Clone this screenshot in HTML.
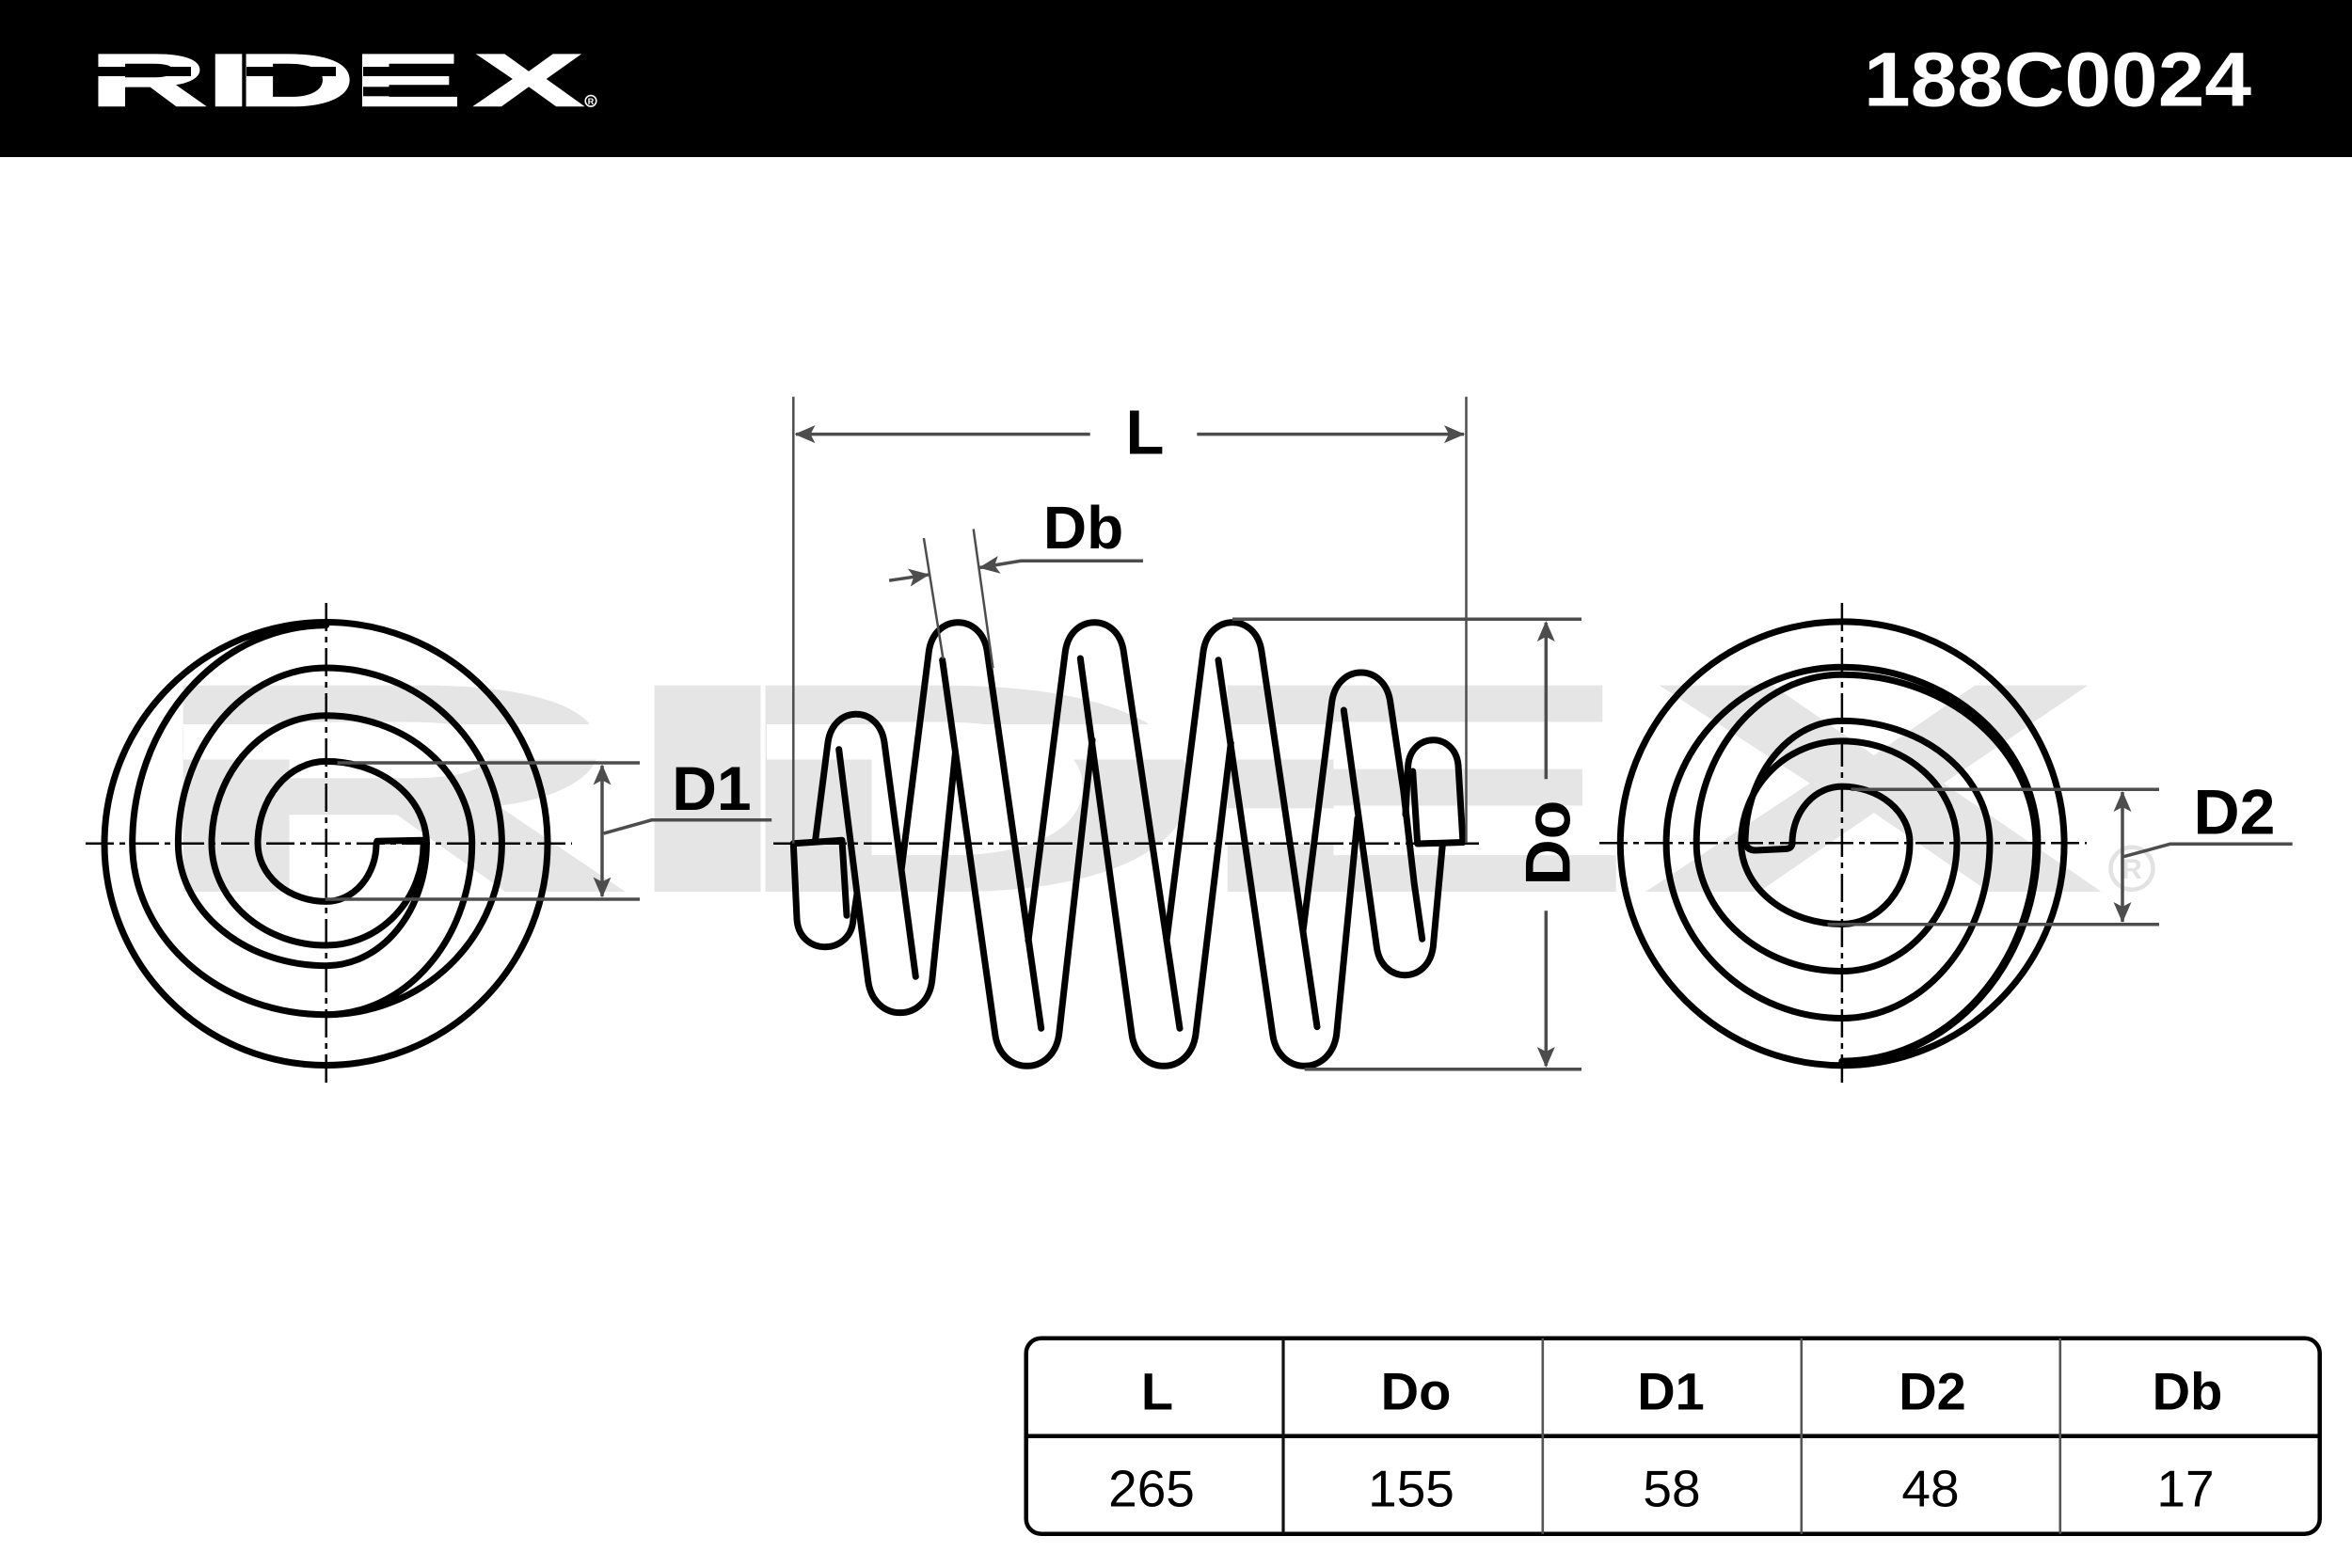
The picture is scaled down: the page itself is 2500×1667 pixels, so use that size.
<!DOCTYPE html>
<html>
<head>
<meta charset="utf-8">
<style>
html,body{margin:0;padding:0;background:#fff;}
svg{display:block;}
</style>
</head>
<body>
<svg width="2500" height="1667" viewBox="0 0 2500 1667" xmlns="http://www.w3.org/2000/svg" font-family="'Liberation Sans', Arial, sans-serif">
  <!-- Header bar -->
  <rect x="0" y="0" width="2500" height="167" fill="#000"/>
  <text x="43 99.5 114.4 170.5 229.1" y="112.5" transform="scale(2.2,1)" font-size="79" font-weight="bold" fill="#fff" stroke="#fff" stroke-width="1.6" stroke-linejoin="miter">RIDEX</text>
  <rect x="104" y="71" width="99" height="10" fill="#000"/>
  <rect x="262" y="71" width="95" height="10" fill="#000"/>
  <rect x="386" y="71" width="115" height="10" fill="#000"/>
  <rect x="386" y="92.3" width="115" height="10" fill="#000"/>
  <circle cx="628" cy="107.3" r="5.8" fill="none" stroke="#fff" stroke-width="1.6"/>
  <text x="628" y="110.8" font-size="9" font-weight="bold" fill="#fff" text-anchor="middle">R</text>
  <text x="1981" y="112.3" font-size="82" font-weight="bold" fill="#fff" textLength="412" lengthAdjust="spacingAndGlyphs">188C0024</text>

  <!-- Watermark -->
  <text x="65.7 283.5 334.8 548.3 761.5" y="946" transform="scale(2.3,1)" font-size="313" font-weight="bold" fill="#e5e5e5" stroke="#e5e5e5" stroke-width="4" stroke-linejoin="miter">RIDEX</text>
  <rect x="195" y="770" width="465" height="37.5" fill="#fff"/>
  <rect x="815" y="770" width="460" height="37.5" fill="#fff"/>
  <rect x="1300" y="770" width="460" height="37.5" fill="#fff"/>
  <rect x="1300" y="859.3" width="460" height="37.5" fill="#fff"/>
  <circle cx="2266" cy="923.3" r="22.5" fill="none" stroke="#e2e2e2" stroke-width="4.5"/>
  <text x="2266" y="934" font-size="30" font-weight="bold" fill="#e2e2e2" text-anchor="middle">R</text>

  <!-- Center lines -->
  <g stroke="#000" stroke-width="2.5" stroke-dasharray="30 6 6 6" fill="none">
    <line x1="91" y1="896.7" x2="608" y2="896.7"/>
    <line x1="346.7" y1="641" x2="346.7" y2="1152"/>
    <line x1="822" y1="896.7" x2="1578" y2="896.7"/>
    <line x1="1700" y1="896.3" x2="2218" y2="896.3"/>
    <line x1="1957.9" y1="641" x2="1957.9" y2="1152"/>
  </g>

  <!-- Left spiral -->
  <g stroke="#000" stroke-width="7" fill="none" stroke-linecap="round" stroke-linejoin="round">
    <circle cx="346.5" cy="897" r="235.5"/>
    <path d="M 400,896.7 A 53.3 61.7 0 0 1 346.7,958.4 A 72.7 61.7 0 0 1 274,896.7 A 72.7 87.3 0 0 1 346.7,809.4 A 106.7 87.3 0 0 1 453.4,896.7 A 106.7 130 0 0 1 346.7,1026.7 A 157.3 130 0 0 1 189.4,896.7 A 157.3 186.7 0 0 1 346.7,710 A 186.7 186.7 0 0 1 533.4,896.7 A 186.7 182 0 0 1 346.7,1078.7 A 206 182 0 0 1 140.7,896.7 A 206 232 0 0 1 346.7,664.7"/>
    <path d="M 450.1,893.3 L 450.1,896.7 A 103.4 108.3 0 0 1 346.7,1005 A 121.7 108.3 0 0 1 225,896.7 A 121.7 136 0 0 1 346.7,760.7 A 155 136 0 0 1 501.7,896.7 A 155 182 0 0 1 346.7,1078.7"/>
    <path d="M 400,898 L 400.8,894.2 L 450.1,893.3"/>
  </g>

  <!-- Right spiral -->
  <g stroke="#000" stroke-width="7" fill="none" stroke-linecap="round" stroke-linejoin="round">
    <circle cx="1958.2" cy="896.8" r="235.9"/>
    <path d="M 1905,896.1 A 52.9 60 0 0 1 1957.9,836.1 A 72.1 60 0 0 1 2030,896.1 A 72.1 86.4 0 0 1 1957.9,982.5 A 107.2 86.4 0 0 1 1850.7,896.1 A 107.2 108.2 0 0 1 1957.9,787.9 A 122.1 108.2 0 0 1 2080,896.1 A 122.1 136.4 0 0 1 1957.9,1032.5 A 154.7 136.4 0 0 1 1803.2,896.1 A 154.7 178.9 0 0 1 1957.9,717.2 A 206 178.9 0 0 1 2163.9,896.1 A 206 232 0 0 1 1957.9,1128.1"/>
    <path d="M 1855,896.1 A 102.9 129.7 0 0 1 1957.9,766.4 A 157.1 129.7 0 0 1 2115,896.1 A 157.1 186.4 0 0 1 1957.9,1082.5 A 186.8 186.4 0 0 1 1771.1,896.1 A 186.8 186.8 0 0 1 1957.9,709.3 A 208 186.8 0 0 1 2165.9,896.1 A 208 233 0 0 1 1957.9,1129.1"/>
    <path d="M 1855,896.1 Q 1857,904 1866,904 L 1898,902.5 Q 1905,902 1905,896.1"/>
  </g>

  <!-- Spring side view -->
  <g stroke="#000" stroke-width="7" fill="none" stroke-linecap="round" stroke-linejoin="round">
    <path d="M 843.3,896.7 L 895,893.3 L 900,973.3"/>
    <path d="M 843.3,896.7 L 847,976.7 C 849,1016.7 905,1016.7 907,976.7 L 911,950"/>
    <path d="M 866.7,893 L 880,789.3 C 885.6,749.3 934.4,749.3 940,789.3 L 973.3,1038.3"/>
    <path d="M 958.3,923.3 L 987.3,692.7 C 993.1,651.4 1043.5,651.4 1049.3,692.7 L 1106.7,1093.3"/>
    <path d="M 1093,1000 L 1132.3,692.7 C 1138.1,651.4 1188.5,651.4 1194.3,692.7 L 1254,1093.3"/>
    <path d="M 1240,1000 L 1279,692.7 C 1284.8,651.4 1335.2,651.4 1341,692.7 L 1400,1091.7"/>
    <path d="M 1385,990 L 1415.7,746 C 1421.5,704.7 1471.9,704.7 1477.7,746 L 1491.7,840 L 1503.3,940 L 1511.7,998.3"/>
    <path d="M 891.7,796.7 L 922.7,1042.7 C 928.6,1088 984.8,1088 990.7,1042.7 L 1015.5,800"/>
    <path d="M 1001.7,701.7 L 1057.7,1099.3 C 1063.6,1144.6 1119.8,1144.6 1125.7,1099.3 L 1161,786.7"/>
    <path d="M 1148.3,700 L 1203,1099.3 C 1208.9,1144.6 1265.1,1144.6 1271,1099.3 L 1308.3,790"/>
    <path d="M 1295,701.7 L 1352.7,1099.3 C 1358.6,1144.6 1414.8,1144.6 1420.7,1099.3 L 1443,870"/>
    <path d="M 1428.3,755 L 1463.3,1006.7 C 1468.5,1046.7 1518.1,1046.7 1523.3,1006.7 L 1533.3,898"/>
    <path d="M 1494,866 L 1496.7,813.4 C 1500.2,777.9 1546.5,777.9 1550,813.4 L 1555,895.5"/>
    <path d="M 1555,895.5 L 1506.7,897 L 1501.7,820"/>
  </g>

  <!-- Dimension lines -->
  <g stroke="#4d4d4d" fill="none" stroke-linecap="butt">
    <line x1="843.3" y1="421.8" x2="843.3" y2="896.7" stroke-width="2.5"/>
    <line x1="1558.5" y1="421.8" x2="1558.5" y2="896" stroke-width="2.5"/>
    <line x1="846" y1="461.6" x2="1158.7" y2="461.6" stroke-width="3.5"/>
    <line x1="1272.3" y1="461.6" x2="1556" y2="461.6" stroke-width="3.5"/>
    <line x1="981.9" y1="572.1" x2="1002.5" y2="700.5" stroke-width="2.5"/>
    <line x1="1034.7" y1="562.4" x2="1055.4" y2="710.2" stroke-width="2.5"/>
    <polyline points="945.1,617.2 988.1,610.8" stroke-width="3.5"/>
    <polyline points="1040.4,603.6 1085.2,596.3 1215,596.3" stroke-width="3.5"/>
    <line x1="1310" y1="658.3" x2="1681" y2="658.3" stroke-width="3.5"/>
    <line x1="1386.7" y1="1136.7" x2="1681" y2="1136.7" stroke-width="3.5"/>
    <line x1="1643.3" y1="662" x2="1643.3" y2="828.3" stroke-width="3.5"/>
    <line x1="1643.3" y1="968.3" x2="1643.3" y2="1133" stroke-width="3.5"/>
    <line x1="358.5" y1="811" x2="680" y2="811" stroke-width="3.5"/>
    <line x1="345.7" y1="956" x2="680" y2="956" stroke-width="3.5"/>
    <line x1="640" y1="814" x2="640" y2="953" stroke-width="3.5"/>
    <polyline points="641.6,886.1 692.7,871.8 820.2,871.8" stroke-width="3.5"/>
    <line x1="1967.5" y1="839.3" x2="2295" y2="839.3" stroke-width="3.5"/>
    <line x1="1942.5" y1="982.7" x2="2295" y2="982.7" stroke-width="3.5"/>
    <line x1="2256" y1="842" x2="2256" y2="980" stroke-width="3.5"/>
    <polyline points="2257.3,910.7 2306.7,897.3 2436.7,897.3" stroke-width="3.5"/>
  </g>

  <!-- Arrowheads -->
  <g fill="#4d4d4d" stroke="none">
    <polygon points="844.5,461.6 866.5,452.1 861.5,461.6 866.5,471.1"/>
    <polygon points="1557,461.6 1535,452.1 1540,461.6 1535,471.1"/>
    <polygon points="988.1,610.8 967.74,623.45 971.29,613.31 964.94,604.65"/>
    <polygon points="1040.4,603.6 1060.76,590.96 1057.21,601.09 1063.56,609.76"/>
    <polygon points="1643.3,660 1633.8,682 1643.3,677 1652.8,682"/>
    <polygon points="1643.3,1135 1633.8,1113 1643.3,1118 1652.8,1113"/>
    <polygon points="640,812.5 630.5,834.5 640,829.5 649.5,834.5"/>
    <polygon points="640,954.5 630.5,932.5 640,937.5 649.5,932.5"/>
    <polygon points="2256,841 2246.5,863 2256,858 2265.5,863"/>
    <polygon points="2256,981 2246.5,959 2256,964 2265.5,959"/>
  </g>

  <!-- Dimension labels -->
  <g font-weight="bold" fill="#000" text-anchor="middle">
    <text x="1217" y="482.4" font-size="67">L</text>
    <text x="1151.5" y="583" font-size="64">Db</text>
    <text x="756.4" y="861" font-size="66">D1</text>
    <text x="2375" y="886.7" font-size="68">D2</text>
    <text transform="translate(1668.5,896) rotate(-90)" font-size="68">Do</text>
  </g>

  <!-- Table -->
  <rect x="1090.7" y="1422.7" width="1375" height="208" rx="16" ry="16" fill="none" stroke="#000" stroke-width="4.5"/>
  <line x1="1090.7" y1="1526.7" x2="2465.7" y2="1526.7" stroke="#000" stroke-width="4.5"/>
  <line x1="1364" y1="1422.7" x2="1364" y2="1630.7" stroke="#111" stroke-width="3.2"/>
  <line x1="1639.8" y1="1422.7" x2="1639.8" y2="1630.7" stroke="#555" stroke-width="2.6"/>
  <line x1="1914.8" y1="1422.7" x2="1914.8" y2="1630.7" stroke="#555" stroke-width="2.6"/>
  <line x1="2189.8" y1="1422.7" x2="2189.8" y2="1630.7" stroke="#555" stroke-width="2.6"/>
  <g font-weight="bold" font-size="56" fill="#000" text-anchor="middle">
    <text x="1230" y="1498.3">L</text>
    <text x="1505" y="1498.3">Do</text>
    <text x="1776" y="1498.3">D1</text>
    <text x="2054" y="1498.3">D2</text>
    <text x="2325" y="1498.3">Db</text>
  </g>
  <g font-size="55" fill="#000" text-anchor="middle">
    <text x="1224" y="1601.7">265</text>
    <text x="1500" y="1601.7">155</text>
    <text x="1777" y="1601.7">58</text>
    <text x="2052" y="1601.7">48</text>
    <text x="2323" y="1601.7">17</text>
  </g>
</svg>
</body>
</html>
